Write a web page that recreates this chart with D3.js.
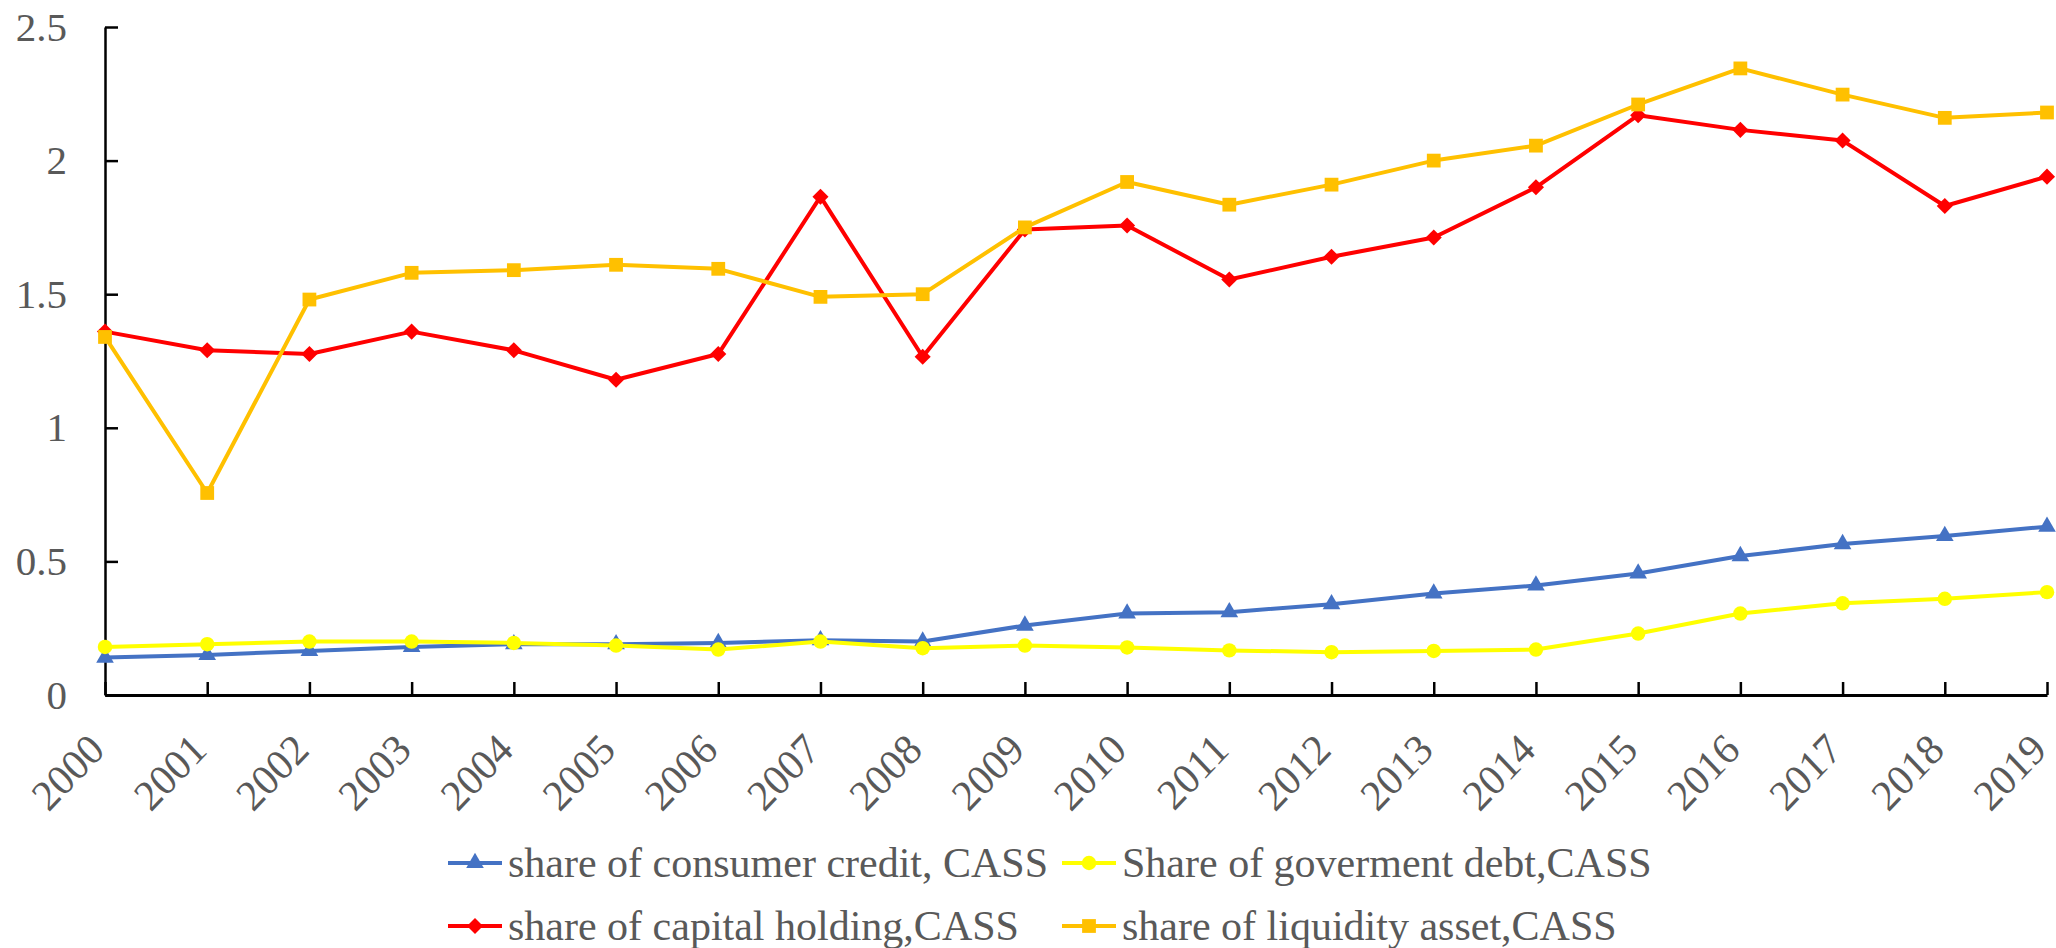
<!DOCTYPE html>
<html>
<head>
<meta charset="utf-8">
<script src="https://cdn.jsdelivr.net/npm/d3@7"></script>
<style>
  body { margin: 0; background: #fff; }
  text { font-family: "Liberation Serif", "Times New Roman", serif; fill: #595959; }
</style>
</head>
<body>
<script>
var years = ["2000","2001","2002","2003","2004","2005","2006","2007","2008","2009",
             "2010","2011","2012","2013","2014","2015","2016","2017","2018","2019"];

var consumerCredit = [0.14,0.15,0.165,0.18,0.19,0.19,0.195,0.205,0.20,0.26,
                      0.305,0.31,0.34,0.38,0.41,0.455,0.52,0.565,0.595,0.63];
var govDebt = [0.18,0.19,0.20,0.20,0.195,0.185,0.17,0.20,0.175,0.185,
               0.178,0.167,0.16,0.165,0.17,0.23,0.305,0.343,0.36,0.385];
var capitalHolding = [1.36,1.29,1.276,1.36,1.29,1.18,1.276,1.865,1.266,1.742,
                      1.757,1.555,1.64,1.712,1.90,2.17,2.115,2.075,1.83,1.94];
var liquidityAsset = [1.34,0.756,1.48,1.58,1.59,1.61,1.595,1.49,1.50,1.75,
                      1.92,1.835,1.91,2.00,2.056,2.21,2.345,2.247,2.16,2.18];

var yTicks = [0, 0.5, 1, 1.5, 2, 2.5];

var seriesNames = ["share of consumer credit, CASS", "Share of goverment debt,CASS",
                   "share of capital holding,CASS", "share of liquidity asset,CASS"];

var series = [
  {name: seriesNames[0], values: consumerCredit, color: "#4472C4", symbol: d3.symbolTriangle, size: 135},
  {name: seriesNames[1], values: govDebt, color: "#FFFF00", symbol: d3.symbolCircle, size: 165},
  {name: seriesNames[2], values: capitalHolding, color: "#FF0000", symbol: d3.symbolDiamond2, size: 165},
  {name: seriesNames[3], values: liquidityAsset, color: "#FFC000", symbol: d3.symbolSquare, size: 190}
];

var width = 2056, height = 948;
var plotLeft = 105, plotRight = 2047, plotTop = 27, plotBottom = 695;

var svg = d3.select("body").append("svg")
    .attr("width", width)
    .attr("height", height);

var x = d3.scalePoint().domain(years).range([plotLeft, plotRight]);
var y = d3.scaleLinear().domain([0, 2.5]).range([plotBottom, plotTop]);

// y axis
var yAxis = svg.append("g")
    .attr("transform", "translate(" + plotLeft + ",0)")
    .call(d3.axisLeft(y).tickValues(yTicks).tickSizeInner(-13).tickSizeOuter(0)
      .tickPadding(38).tickFormat(d3.format("")));
yAxis.select(".domain").attr("stroke", "#000").attr("stroke-width", 2.5);
yAxis.selectAll(".tick line").attr("stroke", "#000").attr("stroke-width", 2.5);
yAxis.selectAll("text").attr("font-size", 41).attr("fill", "#595959")
    .style("font-family", "Liberation Serif");

// x axis
var xAxis = svg.append("g")
    .attr("transform", "translate(0," + plotBottom + ")")
    .call(d3.axisBottom(x).tickSizeInner(-13).tickSizeOuter(0));
xAxis.select(".domain").attr("stroke", "#000").attr("stroke-width", 3);
xAxis.selectAll(".tick line").attr("stroke", "#000").attr("stroke-width", 2.5);
xAxis.selectAll("text")
    .attr("font-size", 41)
    .attr("fill", "#595959")
    .style("font-family", "Liberation Serif")
    .attr("text-anchor", "end")
    .attr("dy", null)
    .attr("y", 0)
    .attr("transform", "translate(1,57) scale(1,1.05) rotate(-45)");

// lines and markers
var line = d3.line()
    .x(function(d, i) { return x(years[i]); })
    .y(function(d) { return y(d); });

series.forEach(function(s) {
  var g = svg.append("g");
  g.append("path")
    .datum(s.values)
    .attr("fill", "none")
    .attr("stroke", s.color)
    .attr("stroke-width", 4)
    .attr("stroke-linejoin", "round")
    .attr("d", line);
  g.selectAll(".mark")
    .data(s.values)
    .enter().append("path")
    .attr("class", "mark")
    .attr("d", d3.symbol().type(s.symbol).size(s.size))
    .attr("fill", s.color)
    .attr("transform", function(d, i) {
      return "translate(" + x(years[i]) + "," + y(d) + ")";
    });
});

// legend
var legendPos = [[448, 863], [1062, 863], [448, 926], [1062, 926]];
series.forEach(function(s, i) {
  var lg = svg.append("g")
      .attr("transform", "translate(" + legendPos[i][0] + "," + legendPos[i][1] + ")");
  lg.append("line")
    .attr("x1", 0).attr("x2", 54)
    .attr("y1", 0).attr("y2", 0)
    .attr("stroke", s.color)
    .attr("stroke-width", 4);
  lg.append("path")
    .attr("d", d3.symbol().type(s.symbol).size(s.size))
    .attr("fill", s.color)
    .attr("transform", "translate(27,0)");
  lg.append("text")
    .attr("x", 60)
    .attr("y", 0)
    .attr("dy", "0.34em")
    .attr("font-size", 42)
    .text(s.name);
});
</script>
</body>
</html>
